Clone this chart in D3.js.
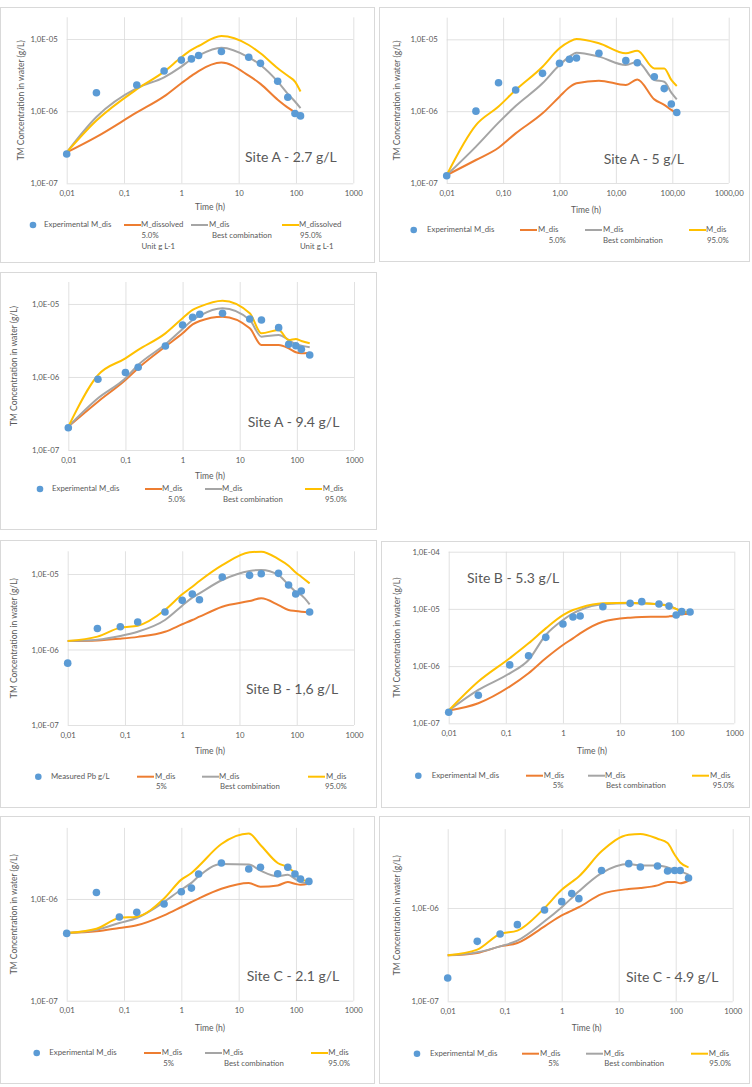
<!DOCTYPE html>
<html><head><meta charset="utf-8">
<script src="https://cdn.jsdelivr.net/npm/d3@7"></script>
<style>
body{margin:0;background:#fff}
svg{display:block}
text{font-family:Lato,"Open Sans",sans-serif}
</style>
</head><body>
<svg id="c" width="752" height="1087"></svg>
<script>
// ---------- tick labels ----------
const xTickValues = [0.01, 0.1, 1, 10, 100, 1000];
const xTickLabels = ["0,01", "0,1", "1", "10", "100", "1000"];
const xTickLabelsDec = ["0,01", "0,10", "1,00", "10,00", "100,00", "1000,00"];
const yTicks3 = [1e-7, 1e-6, 1e-5];
const yLabels3 = ["1,0E-07", "1,0E-06", "1,0E-05"];
const yTicks4 = [1e-7, 1e-6, 1e-5, 1e-4];
const yLabels4 = ["1,0E-07", "1,0E-06", "1,0E-05", "1,0E-04"];
const yTicks2 = [1e-7, 1e-6];
const yLabels2 = ["1,0E-07", "1,0E-06"];

// ---------- Site A - 2.7 g/L ----------
const a27Time = [0.01, 0.033, 0.167, 0.5, 1, 1.5, 2, 5, 15, 24, 48, 72, 96, 120];
const a27Exp  = [2.55e-7, 1.8e-6, 2.3e-6, 3.6e-6, 5.1e-6, 5.3e-6, 5.9e-6, 6.7e-6, 5.6e-6, 4.6e-6, 2.6e-6, 1.56e-6, 9.3e-7, 8.6e-7];
const a27Low  = [2.68e-7, 4.4e-7, 9.6e-7, 1.6e-6, 2.44e-6, 3.09e-6, 3.6e-6, 4.71e-6, 3.1e-6, 2.39e-6, 1.44e-6, 1.12e-6, 9.7e-7, 9.2e-7];
const a27Best = [2.68e-7, 8.3e-7, 2.08e-6, 2.95e-6, 4.15e-6, 5.24e-6, 5.94e-6, 7.59e-6, 5.58e-6, 4.37e-6, 2.57e-6, 1.74e-6, 1.36e-6, 1.1e-6];
const a27High = [2.68e-7, 7.4e-7, 2.01e-6, 3.53e-6, 5.58e-6, 7.05e-6, 8.0e-6, 1.1e-5, 8.26e-6, 6.34e-6, 3.93e-6, 3.09e-6, 2.57e-6, 1.87e-6];

// ---------- Site A - 5 g/L ----------
const a5Time = [0.01, 0.033, 0.083, 0.167, 0.5, 1, 1.5, 2, 5, 15, 24, 48, 72, 96, 120];
const a5Exp  = [1.26e-7, 1.0e-6, 2.49e-6, 1.97e-6, 3.36e-6, 4.63e-6, 5.28e-6, 5.5e-6, 6.38e-6, 5.05e-6, 4.73e-6, 3.02e-6, 2.06e-6, 1.26e-6, 9.6e-7];
const a5Low  = [1.29e-7, 2.09e-7, 3.1e-7, 4.91e-7, 9.33e-7, 1.59e-6, 2.15e-6, 2.44e-6, 2.66e-6, 2.31e-6, 2.77e-6, 1.46e-6, 1.22e-6, 1.04e-6, 9.33e-7];
const a5Best = [1.29e-7, 3.21e-7, 6.92e-7, 1.18e-6, 2.44e-6, 4.39e-6, 5.74e-6, 6.52e-6, 5.74e-6, 4.39e-6, 4.89e-6, 2.72e-6, 2.57e-6, 1.81e-6, 1.46e-6];
const a5High = [1.29e-7, 6.41e-7, 1.16e-6, 1.97e-6, 4.16e-6, 7.5e-6, 9.29e-6, 1.01e-5, 8.8e-6, 6.38e-6, 6.95e-6, 3.94e-6, 3.94e-6, 2.72e-6, 2.24e-6];

// ---------- Site A - 9.4 g/L ----------
const a94Time = [0.01, 0.033, 0.1, 0.167, 0.5, 1, 1.5, 2, 5, 15, 24, 48, 72, 96, 120, 168];
const a94Exp  = [2.02e-7, 9.3e-7, 1.15e-6, 1.36e-6, 2.66e-6, 5.16e-6, 6.57e-6, 7.22e-6, 7.45e-6, 6.24e-6, 6.04e-6, 4.74e-6, 2.8e-6, 2.68e-6, 2.39e-6, 2.0e-6];
const a94Low  = [2.09e-7, 4.59e-7, 9.1e-7, 1.32e-6, 2.61e-6, 3.96e-6, 5.26e-6, 5.85e-6, 6.7e-6, 4.64e-6, 2.74e-6, 2.74e-6, 2.47e-6, 2.18e-6, 2.11e-6, 2.15e-6];
const a94Best = [2.09e-7, 5.1e-7, 9.6e-7, 1.46e-6, 2.8e-6, 4.55e-6, 6.04e-6, 6.92e-6, 8.73e-6, 6.04e-6, 3.57e-6, 3.76e-6, 3.21e-6, 2.8e-6, 2.69e-6, 2.55e-6];
const a94High = [2.09e-7, 1.06e-6, 1.8e-6, 2.35e-6, 3.96e-6, 6.37e-6, 8.28e-6, 9.19e-6, 1.11e-5, 7.45e-6, 3.96e-6, 4.41e-6, 3.21e-6, 3.32e-6, 3.11e-6, 2.89e-6];

// ---------- Site B - 1,6 g/L ----------
const b16Time = [0.01, 0.033, 0.083, 0.167, 0.5, 1, 1.5, 2, 5, 15, 24, 48, 72, 96, 120, 168];
const b16Exp  = [6.6e-7, 1.9e-6, 2.0e-6, 2.31e-6, 3.14e-6, 4.48e-6, 5.43e-6, 4.57e-6, 9.12e-6, 9.6e-6, 1.01e-5, 1.02e-5, 7.15e-6, 5.43e-6, 5.96e-6, 3.14e-6];
const b16Low  = [1.3e-6, 1.32e-6, 1.39e-6, 1.47e-6, 1.72e-6, 2.16e-6, 2.46e-6, 2.72e-6, 3.69e-6, 4.38e-6, 4.76e-6, 3.88e-6, 3.33e-6, 3.23e-6, 3.17e-6, 3.1e-6];
const b16Best = [1.3e-6, 1.35e-6, 1.51e-6, 1.72e-6, 2.46e-6, 3.81e-6, 4.86e-6, 5.55e-6, 8.33e-6, 1.1e-5, 1.13e-5, 9.7e-6, 7.15e-6, 5.83e-6, 5.27e-6, 3.97e-6];
const b16High = [1.3e-6, 1.48e-6, 1.95e-6, 2.07e-6, 3.34e-6, 5.38e-6, 6.8e-6, 8.07e-6, 1.31e-5, 1.94e-5, 1.98e-5, 1.58e-5, 1.29e-5, 1.05e-5, 9.2e-6, 7.52e-6];

// ---------- Site B - 5.3 g/L ----------
const b53Time = [0.01, 0.033, 0.117, 0.25, 0.5, 1, 1.5, 2, 5, 15, 24, 48, 72, 96, 120, 168];
const b53Exp  = [1.56e-7, 3.09e-7, 1.05e-6, 1.52e-6, 3.18e-6, 5.44e-6, 7.21e-6, 7.51e-6, 1.09e-5, 1.25e-5, 1.34e-5, 1.22e-5, 1.12e-5, 7.81e-6, 8.95e-6, 8.83e-6];
const b53Low  = [1.67e-7, 2.24e-7, 4.38e-7, 7.48e-7, 1.37e-6, 2.34e-6, 3.06e-6, 3.74e-6, 5.98e-6, 7.03e-6, 7.22e-6, 7.3e-6, 7.4e-6, 7.62e-6, 8.03e-6, 8.2e-6];
const b53Best = [1.67e-7, 3.83e-7, 7.48e-7, 1.28e-6, 3.5e-6, 6.4e-6, 8.37e-6, 9.57e-6, 1.2e-5, 1.25e-5, 1.25e-5, 1.2e-5, 1.14e-5, 1.0e-5, 9.19e-6, 8.7e-6];
const b53High = [1.67e-7, 5.36e-7, 1.37e-6, 2.5e-6, 4.57e-6, 7.81e-6, 9.57e-6, 1.05e-5, 1.25e-5, 1.28e-5, 1.25e-5, 1.2e-5, 1.12e-5, 1.0e-5, 8.9e-6, 8.7e-6];

// ---------- Site C - 2.1 g/L ----------
const c21Time = [0.01, 0.033, 0.083, 0.167, 0.5, 1, 1.5, 2, 5, 15, 24, 48, 72, 96, 120, 168];
const c21Exp  = [4.59e-7, 1.16e-6, 6.65e-7, 7.39e-7, 8.93e-7, 1.18e-6, 1.28e-6, 1.76e-6, 2.26e-6, 1.97e-6, 2.05e-6, 1.77e-6, 2.05e-6, 1.76e-6, 1.57e-6, 1.49e-6];
const c21Low  = [4.63e-7, 4.81e-7, 5.19e-7, 5.51e-7, 6.9e-7, 8.34e-7, 9.34e-7, 1.01e-6, 1.26e-6, 1.44e-6, 1.32e-6, 1.36e-6, 1.47e-6, 1.41e-6, 1.38e-6, 1.41e-6];
const c21Best = [4.63e-7, 4.99e-7, 5.81e-7, 6.5e-7, 9.34e-7, 1.24e-6, 1.44e-6, 1.67e-6, 2.21e-6, 2.18e-6, 1.9e-6, 1.67e-6, 1.73e-6, 1.58e-6, 1.47e-6, 1.43e-6];
const c21High = [4.63e-7, 5.1e-7, 6.5e-7, 6.7e-7, 1.01e-6, 1.55e-6, 1.8e-6, 2.1e-6, 3.47e-6, 4.4e-6, 3.4e-6, 2.26e-6, 2.05e-6, 1.8e-6, 1.58e-6, 1.49e-6];

// ---------- Site C - 4.9 g/L ----------
const c49Time = [0.01, 0.033, 0.083, 0.167, 0.5, 1, 1.5, 2, 5, 15, 24, 48, 72, 96, 120, 168];
const c49Exp  = [1.78e-7, 4.39e-7, 5.27e-7, 6.63e-7, 9.52e-7, 1.17e-6, 1.43e-6, 1.26e-6, 2.53e-6, 2.99e-6, 2.75e-6, 2.82e-6, 2.49e-6, 2.53e-6, 2.53e-6, 2.1e-6];
const c49Low  = [3.11e-7, 3.3e-7, 3.88e-7, 4.22e-7, 6.37e-7, 8.34e-7, 9.36e-7, 1.02e-6, 1.41e-6, 1.6e-6, 1.64e-6, 1.75e-6, 1.9e-6, 1.9e-6, 1.84e-6, 1.96e-6];
const c49Best = [3.11e-7, 3.35e-7, 3.88e-7, 4.47e-7, 7.2e-7, 1.02e-6, 1.28e-6, 1.51e-6, 2.37e-6, 2.96e-6, 2.86e-6, 2.86e-6, 2.73e-6, 2.57e-6, 2.47e-6, 2.28e-6];
const c49High = [3.11e-7, 3.58e-7, 5.27e-7, 5.72e-7, 1.0e-6, 1.57e-6, 1.9e-6, 2.18e-6, 4.05e-6, 6.11e-6, 6.21e-6, 5.53e-6, 4.97e-6, 3.73e-6, 3.08e-6, 2.73e-6];

// ---------- legend texts ----------
const legExp = ["Experimental M_dis"];
const legMeasured = ["Measured Pb g/L"];
const legLowA27 = ["M_dissolved", "5.0%", "Unit g L-1"];
const legHighA27 = ["M_dissolved", "95.0%", "Unit g L-1"];
const legLow50 = ["M_dis", "5.0%"];
const legLow5 = ["M_dis", "5%"];
const legBest = ["M_dis", "Best combination"];
const legHigh = ["M_dis", "95.0%"];

// ---------- styles / layout ----------
const colors = {exp: "#5B9BD5", low: "#ED7D31", best: "#A5A5A5", high: "#FFC000"};
const textColor = "#595959";
const gridColor = "#D9D9D9";

const panels = [
  {title: "Site A - 2.7 g/L", time: a27Time, exp: a27Exp, low: a27Low, best: a27Best, high: a27High,
   yTicks: yTicks3, yLabels: yLabels3, xLabels: xTickLabels, yMax: 2e-5,
   box: [0, 7, 374, 255], xr: [66.7, 353.3], yr: [183.3, 17.3], yTitleX: 22, timeX: 210, timeY: 208,
   site: [245, 158], legY: 225,
   leg: [{t: legExp, x: 33, tx: 44}, {t: legLowA27, x: 124, tx: 141, sx: 141.5}, {t: legBest, x: 191, tx: 209, sx: 212}, {t: legHighA27, x: 282, tx: 299, sx: 300}]},
  {title: "Site A - 5 g/L", time: a5Time, exp: a5Exp, low: a5Low, best: a5Best, high: a5High,
   yTicks: yTicks3, yLabels: yLabels3, xLabels: xTickLabelsDec, yMax: 2e-5,
   box: [379, 7, 370, 254], xr: [446.7, 728.7], yr: [183, 17.7], yTitleX: 397.7, timeX: 586, timeY: 211,
   site: [603.7, 160], legY: 230,
   leg: [{t: legExp, x: 413.7, tx: 427}, {t: legLow50, x: 520, tx: 538, sx: 548.7}, {t: legBest, x: 585, tx: 603, sx: 603}, {t: legHigh, x: 689, tx: 706, sx: 707}]},
  {title: "Site A - 9.4 g/L", time: a94Time, exp: a94Exp, low: a94Low, best: a94Best, high: a94High,
   yTicks: yTicks3, yLabels: yLabels3, xLabels: xTickLabels, yMax: 2e-5,
   box: [0, 272, 376, 257], xr: [68.3, 354], yr: [450, 282], yTitleX: 15, timeX: 210, timeY: 477,
   site: [247.7, 423], legY: 489,
   leg: [{t: legExp, x: 40, tx: 52}, {t: legLow50, x: 145, tx: 162, sx: 168}, {t: legBest, x: 205, tx: 222, sx: 223}, {t: legHigh, x: 305, tx: 322.7, sx: 325}]},
  {title: "Site B - 1,6 g/L", time: b16Time, exp: b16Exp, low: b16Low, best: b16Best, high: b16High,
   yTicks: yTicks3, yLabels: yLabels3, xLabels: xTickLabels, yMax: 2e-5,
   box: [0, 540, 376, 267], xr: [67.7, 354], yr: [725, 551.3], yTitleX: 15, timeX: 210, timeY: 752.3,
   site: [246, 690], legY: 776.7,
   leg: [{t: legMeasured, x: 38.3, tx: 51}, {t: legLow5, x: 137, tx: 155, sx: 156}, {t: legBest, x: 202, tx: 219, sx: 220}, {t: legHigh, x: 308, tx: 326, sx: 325}]},
  {title: "Site B - 5.3 g/L", time: b53Time, exp: b53Exp, low: b53Low, best: b53Best, high: b53High,
   yTicks: yTicks4, yLabels: yLabels4, xLabels: xTickLabels, yMax: 1e-4,
   box: [381, 541, 368, 266], xr: [448.7, 734.3], yr: [723.3, 551.7], yTitleX: 397.7, timeX: 592, timeY: 751.7,
   site: [467, 579.3], legY: 775.7,
   leg: [{t: legExp, x: 418.3, tx: 431.7}, {t: legLow5, x: 526, tx: 543.7, sx: 552.7}, {t: legBest, x: 588, tx: 605, sx: 606}, {t: legHigh, x: 692, tx: 710, sx: 712.7}]},
  {title: "Site C - 2.1 g/L", time: c21Time, exp: c21Exp, low: c21Low, best: c21Best, high: c21High,
   yTicks: yTicks2, yLabels: yLabels2, xLabels: xTickLabels, yMax: 5e-6,
   box: [0, 816, 374, 267], xr: [66.7, 353.3], yr: [1000.7, 827.9], yTitleX: 15, timeX: 210, timeY: 1028.7,
   site: [246.7, 977.3], legY: 1053,
   leg: [{t: legExp, x: 36.7, tx: 49.3}, {t: legLow5, x: 144, tx: 161.7, sx: 163.3}, {t: legBest, x: 205, tx: 222.7, sx: 224}, {t: legHigh, x: 311, tx: 328.3, sx: 328.3}]},
  {title: "Site C - 4.9 g/L", time: c49Time, exp: c49Exp, low: c49Low, best: c49Best, high: c49High,
   yTicks: yTicks2, yLabels: yLabels2, xLabels: xTickLabels, yMax: 7e-6,
   box: [379, 816, 370, 267], xr: [447.7, 732.7], yr: [1001.3, 829.2], yTitleX: 397.7, timeX: 586.7, timeY: 1028.7,
   site: [626, 978], legY: 1053.7,
   leg: [{t: legExp, x: 417, tx: 430}, {t: legLow5, x: 522, tx: 540, sx: 548.3}, {t: legBest, x: 586, tx: 603.7, sx: 604.3}, {t: legHigh, x: 691, tx: 708.7, sx: 709.3}]}
];

const svg = d3.select("#c");

function drawPanel(p) {
  const g = svg.append("g");
  g.append("rect")
    .attr("x", p.box[0] + 0.5).attr("y", p.box[1] + 0.5)
    .attr("width", p.box[2]).attr("height", p.box[3])
    .attr("fill", "#fff").attr("stroke", gridColor).attr("stroke-width", 1);

  const x = d3.scaleLog().domain([0.01, 1000]).range(p.xr);
  const y = d3.scaleLog().domain([1e-7, p.yMax]).range(p.yr);
  const w = p.xr[1] - p.xr[0];
  const h = p.yr[0] - p.yr[1];

  const styleAxis = s => {
    s.attr("font-family", null).attr("font-size", null);
    s.select(".domain").remove();
    s.selectAll(".tick line").attr("stroke", gridColor).attr("stroke-width", 0.8);
    s.selectAll(".tick text").attr("fill", textColor).attr("font-size", 7.8);
  };

  g.append("g")
    .attr("transform", `translate(0,${p.yr[0]})`)
    .call(d3.axisBottom(x).tickValues(xTickValues).tickFormat((d, i) => p.xLabels[i]).tickSize(-h).tickPadding(7))
    .call(styleAxis);

  g.append("g")
    .attr("transform", `translate(${p.xr[0]},0)`)
    .call(d3.axisLeft(y).tickValues(p.yTicks).tickFormat((d, i) => p.yLabels[i]).tickSize(-w).tickPadding(9))
    .call(styleAxis);

  const series = [["low", p.low], ["best", p.best], ["high", p.high]];
  const line = d3.line().x(d => x(d[0])).y(d => y(d[1])).curve(d3.curveMonotoneX);
  series.forEach(([k, vals]) => {
    g.append("path")
      .datum(p.time.map((t, i) => [t, vals[i]]))
      .attr("d", line)
      .attr("fill", "none").attr("stroke", colors[k]).attr("stroke-width", 2)
      .attr("stroke-linejoin", "round");
  });

  g.selectAll("circle.exp")
    .data(p.time.map((t, i) => [t, p.exp[i]]))
    .join("circle").attr("class", "exp")
    .attr("cx", d => x(d[0])).attr("cy", d => y(d[1])).attr("r", 3.8)
    .attr("fill", colors.exp);

  // axis titles
  g.append("text")
    .attr("transform", `translate(${p.yTitleX},${(p.yr[0] + p.yr[1]) / 2}) rotate(-90)`)
    .attr("text-anchor", "middle").attr("dominant-baseline", "middle")
    .attr("font-size", 8.5).attr("fill", textColor)
    .text("TM Concentration in water (g/L)");
  g.append("text")
    .attr("x", p.timeX).attr("y", p.timeY)
    .attr("text-anchor", "middle").attr("dominant-baseline", "middle")
    .attr("font-size", 8.5).attr("fill", textColor)
    .text("Time (h)");

  // site label
  g.append("text")
    .attr("x", p.site[0]).attr("y", p.site[1])
    .attr("dominant-baseline", "middle")
    .attr("font-size", 14).attr("fill", textColor)
    .text(p.title);

  // legend
  const keys = ["exp", "low", "best", "high"];
  p.leg.forEach((e, i) => {
    const k = keys[i];
    if (k === "exp") {
      g.append("circle").attr("cx", e.x).attr("cy", p.legY).attr("r", 3.3).attr("fill", colors.exp);
    } else {
      g.append("line").attr("x1", e.x).attr("x2", e.x + 17)
        .attr("y1", p.legY).attr("y2", p.legY)
        .attr("stroke", colors[k]).attr("stroke-width", 2);
    }
    e.t.forEach((s, j) => {
      g.append("text")
        .attr("x", j === 0 ? e.tx : e.sx)
        .attr("y", p.legY + j * 10.8)
        .attr("dominant-baseline", "middle")
        .attr("font-size", 7.8).attr("fill", textColor)
        .text(s);
    });
  });
}

panels.forEach(drawPanel);
</script>
</body></html>
